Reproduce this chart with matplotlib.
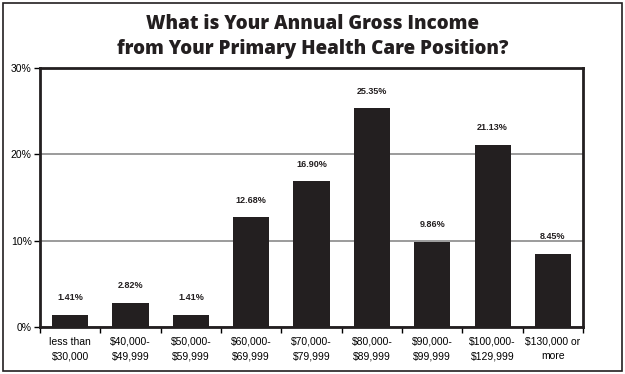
import matplotlib.pyplot as plt
from matplotlib.patches import Rectangle

categories = ['less than\n$30,000', '$40,000-\n$49,999', '$50,000-\n$59,999',
              '$60,000-\n$69,999', '$70,000-\n$79,999', '$80,000-\n$89,999',
              '$90,000-\n$99,999', '$100,000-\n$129,999', '$130,000 or\nmore']
percent = [1.41, 2.82, 1.41, 12.68, 16.90, 25.35, 9.86, 21.13, 8.45]
y_ticks = [0, 10, 20, 30]

narrow = ['Liberation Sans Narrow', 'Liberation Sans', 'DejaVu Sans']

fig = plt.figure(figsize=(6.25, 3.74), dpi=100)
fig.patches.append(Rectangle((0.005, 0.008), 0.99, 0.984, transform=fig.transFigure,
                             fill=False, edgecolor='#231f20', linewidth=1.2))

ax = fig.add_axes([0.064, 0.126, 0.869, 0.692])
x = list(range(len(categories)))
bars = ax.bar(x, percent, width=0.6, color='#231f20', zorder=3)

for b, v in zip(bars, percent):
    ax.annotate(f'{v:.2f}%', (b.get_x() + b.get_width() / 2, v),
                xytext=(0, 9), textcoords='offset points', ha='center', va='bottom',
                fontsize=6.5, fontweight='bold', family=narrow, color='#231f20')

ax.set_xlim(-0.5, len(categories) - 0.5)
ax.set_ylim(0, 30)
ax.set_yticks(y_ticks)
ax.set_yticklabels([f'{t}%' for t in y_ticks], family=narrow, fontsize=7.5)
ax.yaxis.grid(True, color='#8a8a8a', linewidth=1.2, zorder=0)

ax.set_xticks(x)
ax.set_xticklabels(categories, family=narrow, fontsize=7.5, linespacing=1.6)
ax.tick_params(axis='x', which='major', length=0, pad=7)
ax.set_xticks([i + 0.5 for i in x[:-1]] + [-0.5, len(categories) - 0.5], minor=True)
ax.tick_params(axis='x', which='minor', length=4, width=1, direction='out')
ax.tick_params(axis='y', length=4, width=1, direction='out', pad=2)

for side in ['left', 'bottom', 'top', 'right']:
    ax.spines[side].set_linewidth(2)
    ax.spines[side].set_color('#231f20')

fig.text(0.5, 0.903, 'What is Your Annual Gross Income\nfrom Your Primary Health Care Position?',
         ha='center', va='center', fontsize=13.5, fontweight='heavy',
         family=['Open Sans', 'DejaVu Sans'], color='#231f20', linespacing=1.3)

fig.savefig('out.png', dpi=100)
